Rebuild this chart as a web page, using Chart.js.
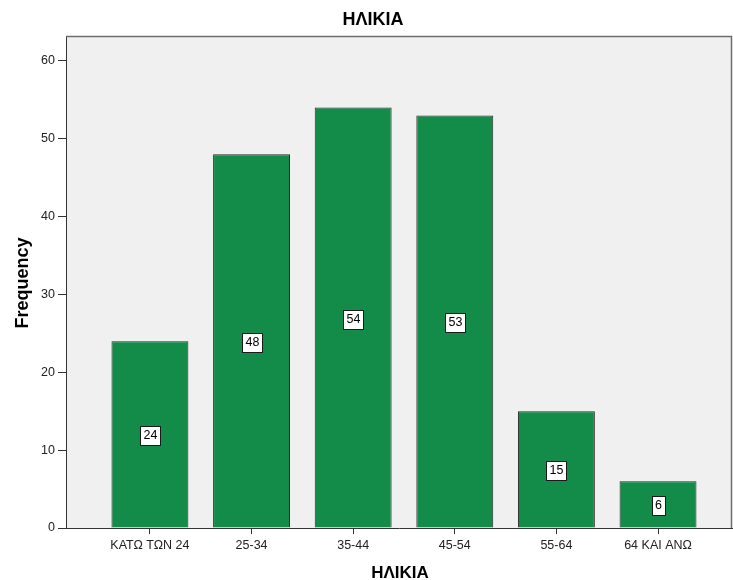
<!DOCTYPE html>
<html>
<head>
<meta charset="utf-8">
<script src="https://cdn.jsdelivr.net/npm/chart.js@4/dist/chart.umd.min.js"></script>
<style>
  html, body { margin: 0; padding: 0; background: #ffffff; overflow: hidden; }
  #wrap { width: 733px; height: 580px; }
</style>
</head>
<body>
<div id="wrap"><canvas id="chart" width="733" height="580"></canvas></div>
<script>
// Age groups and their frequencies
const categories = ['ΚΑΤΩ ΤΩΝ 24', '25-34', '35-44', '45-54', '55-64', '64 ΚΑΙ ΑΝΩ'];
const frequencies = [24, 48, 54, 53, 15, 6];
const yTickValues = [0, 10, 20, 30, 40, 50, 60];
const chartTitle = 'ΗΛΙΚΙΑ';
const xAxisTitle = 'ΗΛΙΚΙΑ';
const yAxisTitle = 'Frequency';

const FONT = '"Liberation Sans", Arial, Helvetica, sans-serif';
const BAR_FILL = '#128c48';
const BAR_EDGE = '#2a2a2a';
const TEXT = '#222222';

// Light grey plot background and frame
const plotFrame = {
  id: 'plotFrame',
  beforeDraw(chart) {
    const { ctx, chartArea: a } = chart;
    ctx.save();
    ctx.fillStyle = '#f0f0f0';
    ctx.fillRect(a.left, a.top, a.right - a.left, a.bottom - a.top);
    ctx.restore();
  },
  afterDraw(chart) {
    const { ctx, chartArea: a } = chart;
    ctx.save();
    ctx.strokeStyle = '#6e6e6e';
    ctx.lineWidth = 1.5;
    ctx.beginPath();
    ctx.moveTo(a.left, a.top + 0.5);
    ctx.lineTo(a.right - 0.5, a.top + 0.5);
    ctx.lineTo(a.right - 0.5, a.bottom);
    ctx.stroke();
    ctx.restore();
  }
};

// Boxed value labels at the middle of each bar
const valueBoxes = {
  id: 'valueBoxes',
  afterDatasetsDraw(chart) {
    const { ctx } = chart;
    const meta = chart.getDatasetMeta(0);
    ctx.save();
    ctx.font = '12.5px ' + FONT;
    ctx.textAlign = 'center';
    ctx.textBaseline = 'middle';
    meta.data.forEach((bar, i) => {
      const text = String(frequencies[i]);
      const cx = Math.round(bar.x);
      const cy = Math.round((bar.y + bar.base) / 2) + 1;
      const w = Math.round(ctx.measureText(text).width) + 6;
      const h = 19;
      const x0 = Math.round(cx - w / 2) + 0.5;
      const y0 = Math.round(cy - h / 2) + 0.5;
      ctx.fillStyle = '#ffffff';
      ctx.fillRect(x0, y0, w, h);
      ctx.strokeStyle = '#1a1a1a';
      ctx.lineWidth = 1;
      ctx.strokeRect(x0, y0, w, h);
      ctx.fillStyle = '#000000';
      ctx.fillText(text, cx + 0.5, cy + 1);
    });
    ctx.restore();
  }
};

// Chart title and axis titles
const titles = {
  id: 'titles',
  afterDraw(chart) {
    const { ctx, chartArea: a } = chart;
    ctx.save();
    ctx.fillStyle = '#000000';
    ctx.textAlign = 'center';
    ctx.textBaseline = 'middle';
    ctx.font = 'bold 18px ' + FONT;
    ctx.fillText(chartTitle, 373, 20);
    ctx.font = 'bold 17px ' + FONT;
    ctx.fillText(xAxisTitle, (a.left + a.right) / 2 + 1, 573);
    ctx.save();
    ctx.translate(23, (a.top + a.bottom) / 2 + 1);
    ctx.rotate(-Math.PI / 2);
    ctx.font = 'bold 18px ' + FONT;
    ctx.fillText(yAxisTitle, 0, 0);
    ctx.restore();
    ctx.restore();
  }
};

const points = frequencies.map((v, i) => ({ x: i, y: v }));

new Chart(document.getElementById('chart'), {
  type: 'bar',
  data: {
    datasets: [{
      label: 'Frequency',
      data: points,
      backgroundColor: BAR_FILL,
      borderColor: BAR_EDGE,
      borderWidth: 1,
      borderSkipped: 'bottom',
      barPercentage: 0.757,
      categoryPercentage: 1.0
    }]
  },
  options: {
    responsive: false,
    animation: false,
    devicePixelRatio: 1,
    layout: { padding: { top: 36, right: 1, left: 0, bottom: 0 } },
    plugins: {
      legend: { display: false },
      title: { display: false },
      tooltip: { enabled: false }
    },
    scales: {
      x: {
        type: 'linear',
        position: 'bottom',
        offset: false,
        min: -0.826,
        max: 5.728,
        afterBuildTicks(scale) {
          scale.ticks = categories.map((_, i) => ({ value: i }));
        },
        afterFit(scale) { scale.height = 52; },
        ticks: {
          autoSkip: false,
          maxRotation: 0,
          minRotation: 0,
          padding: 4,
          color: TEXT,
          font: { family: FONT, size: 12.5 },
          callback: (v) => categories[v]
        },
        grid: { offset: false, drawOnChartArea: false, drawTicks: true, tickLength: 6, color: '#333333' },
        border: { display: true, color: '#333333', width: 1 }
      },
      y: {
        type: 'linear',
        position: 'left',
        min: 0,
        max: 63.2,
        afterBuildTicks(scale) {
          scale.ticks = yTickValues.map(v => ({ value: v }));
        },
        afterFit(scale) { scale.width = 66; },
        ticks: {
          padding: 3,
          color: TEXT,
          font: { family: FONT, size: 12.5 }
        },
        grid: { drawOnChartArea: false, drawTicks: true, tickLength: 8, color: '#333333' },
        border: { display: true, color: '#333333', width: 1 }
      }
    }
  },
  plugins: [plotFrame, valueBoxes, titles]
});
</script>
</body>
</html>
